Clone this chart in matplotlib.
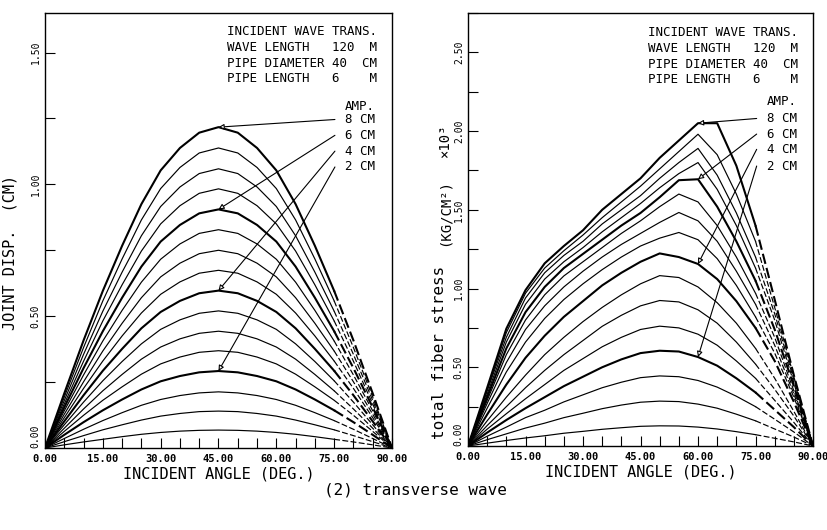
import matplotlib.pyplot as plt
from matplotlib.ticker import MultipleLocator, FormatStrFormatter

plt.rcParams["font.family"] = ["DejaVu Sans Mono"]

# == data ===
angle = list(range(0, 95, 5))
amplitude = [0.5, 1.0, 1.5, 2.0, 2.5, 3.0, 3.5, 4.0, 4.5, 5.0, 5.5, 6.0, 6.5, 7.0, 7.5, 8.0]
labelled_amp = [8.0, 6.0, 4.0, 2.0]

# joint displacement (cm) per amplitude, 0..90 deg every 5 deg
joint_disp = [
    [0, 0.012, 0.023, 0.033, 0.043, 0.052, 0.059, 0.064, 0.067, 0.068, 0.067, 0.064, 0.059, 0.052, 0.043, 0.033, 0.023, 0.012, 0],
    [0, 0.024, 0.047, 0.069, 0.088, 0.106, 0.121, 0.131, 0.138, 0.140, 0.138, 0.131, 0.121, 0.106, 0.088, 0.069, 0.047, 0.024, 0],
    [0, 0.036, 0.071, 0.104, 0.134, 0.162, 0.184, 0.199, 0.209, 0.213, 0.209, 0.199, 0.184, 0.162, 0.134, 0.104, 0.071, 0.036, 0],
    [0, 0.050, 0.098, 0.143, 0.184, 0.222, 0.253, 0.273, 0.287, 0.292, 0.287, 0.273, 0.253, 0.222, 0.184, 0.143, 0.098, 0.050, 0],
    [0, 0.063, 0.124, 0.181, 0.232, 0.280, 0.319, 0.345, 0.363, 0.369, 0.363, 0.345, 0.319, 0.280, 0.232, 0.181, 0.124, 0.063, 0],
    [0, 0.075, 0.148, 0.217, 0.279, 0.337, 0.383, 0.414, 0.435, 0.443, 0.435, 0.414, 0.383, 0.337, 0.279, 0.217, 0.148, 0.075, 0],
    [0, 0.088, 0.174, 0.255, 0.328, 0.395, 0.450, 0.486, 0.511, 0.520, 0.511, 0.486, 0.450, 0.395, 0.328, 0.255, 0.174, 0.088, 0],
    [0, 0.101, 0.200, 0.293, 0.376, 0.454, 0.516, 0.558, 0.587, 0.597, 0.587, 0.558, 0.516, 0.454, 0.376, 0.293, 0.200, 0.101, 0],
    [0, 0.115, 0.226, 0.330, 0.425, 0.512, 0.583, 0.630, 0.663, 0.674, 0.663, 0.630, 0.583, 0.512, 0.425, 0.330, 0.226, 0.115, 0],
    [0, 0.128, 0.251, 0.368, 0.473, 0.570, 0.649, 0.701, 0.737, 0.750, 0.737, 0.701, 0.649, 0.570, 0.473, 0.368, 0.251, 0.128, 0],
    [0, 0.141, 0.277, 0.406, 0.522, 0.629, 0.716, 0.774, 0.814, 0.828, 0.814, 0.774, 0.716, 0.629, 0.522, 0.406, 0.277, 0.141, 0],
    [0, 0.154, 0.303, 0.443, 0.570, 0.688, 0.783, 0.846, 0.890, 0.905, 0.890, 0.846, 0.783, 0.688, 0.570, 0.443, 0.303, 0.154, 0],
    [0, 0.167, 0.329, 0.482, 0.619, 0.747, 0.850, 0.919, 0.966, 0.983, 0.966, 0.919, 0.850, 0.747, 0.619, 0.482, 0.329, 0.167, 0],
    [0, 0.180, 0.355, 0.519, 0.667, 0.805, 0.916, 0.990, 1.041, 1.059, 1.041, 0.990, 0.916, 0.805, 0.667, 0.519, 0.355, 0.180, 0],
    [0, 0.193, 0.381, 0.558, 0.717, 0.865, 0.984, 1.064, 1.119, 1.138, 1.119, 1.064, 0.984, 0.865, 0.717, 0.558, 0.381, 0.193, 0],
    [0, 0.207, 0.408, 0.596, 0.767, 0.925, 1.053, 1.138, 1.196, 1.217, 1.196, 1.138, 1.053, 0.925, 0.767, 0.596, 0.408, 0.207, 0],
]

# total fiber stress (x10^3 kg/cm2) per amplitude
fiber_stress = [
    [0, 0.018, 0.035, 0.051, 0.065, 0.081, 0.093, 0.106, 0.116, 0.125, 0.128, 0.127, 0.120, 0.108, 0.091, 0.072, 0.049, 0.026, 0],
    [0, 0.040, 0.077, 0.114, 0.145, 0.180, 0.208, 0.237, 0.260, 0.278, 0.285, 0.282, 0.266, 0.240, 0.202, 0.160, 0.108, 0.057, 0],
    [0, 0.062, 0.120, 0.180, 0.227, 0.280, 0.325, 0.370, 0.405, 0.434, 0.445, 0.440, 0.416, 0.374, 0.316, 0.250, 0.170, 0.089, 0],
    [0, 0.085, 0.165, 0.240, 0.310, 0.380, 0.440, 0.500, 0.550, 0.590, 0.605, 0.600, 0.565, 0.510, 0.430, 0.340, 0.230, 0.120, 0],
    [0, 0.107, 0.205, 0.300, 0.390, 0.480, 0.555, 0.630, 0.690, 0.740, 0.761, 0.750, 0.710, 0.640, 0.540, 0.430, 0.290, 0.150, 0],
    [0, 0.130, 0.250, 0.370, 0.480, 0.580, 0.670, 0.760, 0.830, 0.890, 0.924, 0.915, 0.865, 0.780, 0.660, 0.520, 0.360, 0.190, 0],
    [0, 0.160, 0.310, 0.450, 0.580, 0.690, 0.790, 0.880, 0.960, 1.030, 1.082, 1.070, 1.010, 0.910, 0.780, 0.620, 0.430, 0.220, 0],
    [0, 0.200, 0.390, 0.560, 0.700, 0.820, 0.920, 1.020, 1.100, 1.170, 1.223, 1.200, 1.156, 1.060, 0.920, 0.750, 0.540, 0.280, 0],
    [0, 0.240, 0.470, 0.660, 0.810, 0.930, 1.030, 1.120, 1.200, 1.270, 1.320, 1.356, 1.310, 1.190, 1.020, 0.820, 0.590, 0.310, 0],
    [0, 0.270, 0.530, 0.740, 0.890, 1.010, 1.110, 1.200, 1.280, 1.350, 1.420, 1.483, 1.430, 1.300, 1.110, 0.900, 0.640, 0.330, 0],
    [0, 0.290, 0.580, 0.800, 0.960, 1.080, 1.170, 1.260, 1.350, 1.430, 1.520, 1.600, 1.550, 1.400, 1.200, 0.970, 0.690, 0.350, 0],
    [0, 0.310, 0.620, 0.850, 1.010, 1.130, 1.220, 1.310, 1.400, 1.480, 1.580, 1.688, 1.694, 1.520, 1.300, 1.050, 0.740, 0.380, 0],
    [0, 0.330, 0.660, 0.900, 1.060, 1.170, 1.260, 1.360, 1.450, 1.540, 1.640, 1.730, 1.800, 1.630, 1.400, 1.130, 0.800, 0.400, 0],
    [0, 0.350, 0.690, 0.940, 1.100, 1.210, 1.300, 1.410, 1.500, 1.590, 1.700, 1.800, 1.890, 1.720, 1.480, 1.200, 0.840, 0.420, 0],
    [0, 0.360, 0.720, 0.970, 1.130, 1.240, 1.340, 1.450, 1.550, 1.650, 1.760, 1.870, 1.980, 1.850, 1.600, 1.300, 0.880, 0.440, 0],
    [0, 0.370, 0.745, 0.990, 1.160, 1.270, 1.370, 1.500, 1.600, 1.700, 1.830, 1.940, 2.050, 2.050, 1.780, 1.400, 0.930, 0.450, 0],
]

header = ["INCIDENT WAVE TRANS.",
          "WAVE LENGTH   120  M",
          "PIPE DIAMETER 40  CM",
          "PIPE LENGTH   6    M"]
amp_labels = ["8 CM", "6 CM", "4 CM", "2 CM"]

# arrow tips (angle, value) on the labelled curves
disp_tips = [(45, 1.217), (45, 0.905), (45, 0.597), (45, 0.292)]
stress_tips = [(60, 2.05), (60, 1.694), (60, 1.156), (60, 0.565)]

# heights of the "AMP." heading and of the four amplitude labels
disp_label_y = [1.295, 1.246, 1.186, 1.126, 1.066]
stress_label_y = [2.19, 2.080, 1.981, 1.884, 1.778]

# labelled y ticks of each panel
disp_ticks = [0.0, 0.5, 1.0, 1.5]
stress_ticks = [0.0, 0.5, 1.0, 1.5, 2.0, 2.5]

DASH_FROM = 15  # index of 75 deg; the tail to 90 deg is drawn dashed


def draw_panel(ax, rows, ymax, yticks, tips, head_xy, amp_x, label_y):
    for a, vals in zip(amplitude, rows):
        lw = 1.5 if a in labelled_amp else 0.85
        ax.plot(angle[:DASH_FROM + 1], vals[:DASH_FROM + 1], color="black", lw=lw)
        ax.plot(angle[DASH_FROM:], vals[DASH_FROM:], color="black", lw=lw,
                linestyle=(0, (5, 2)))

    ax.set_xlim(0, 90)
    ax.set_ylim(0, ymax)
    ax.set_xticks(angle[::3])
    ax.xaxis.set_minor_locator(MultipleLocator(5))
    ax.set_yticks(yticks)
    ax.yaxis.set_minor_locator(MultipleLocator(0.25))
    ax.xaxis.set_major_formatter(FormatStrFormatter("%.2f"))
    ax.yaxis.set_major_formatter(FormatStrFormatter("%.2f"))
    ax.tick_params(which="both", direction="in", length=7, width=0.8)
    ax.tick_params(axis="x", labelsize=7.5, pad=4)
    ax.tick_params(axis="y", labelsize=7, pad=3)
    xlabels = ax.get_xticklabels()
    for lab in xlabels:
        lab.set_fontweight("bold")
    ylabels = ax.get_yticklabels()
    for lab in ylabels:
        lab.set_rotation(90)
        lab.set_va("center")
    # the 0.00 labels are nudged away from the corner
    ylabels[0].set_va("bottom")
    for sp in ax.spines.values():
        sp.set_linewidth(1.0)
    ax.set_xlabel("INCIDENT ANGLE (DEG.)", fontsize=11, labelpad=2)

    # parameter block
    ax.text(head_xy[0], head_xy[1], "\n".join(header), fontsize=9,
            va="top", ha="left", linespacing=1.27)

    # amplitude labels with arrows to the curves
    ax.text(amp_x, label_y[0], "AMP.", fontsize=9, va="center", ha="left")
    for txt, tip, ly in zip(amp_labels, tips, label_y[1:]):
        ax.text(amp_x, ly, txt, fontsize=9, va="center", ha="left")
        ax.annotate("", xy=tip, xytext=(amp_x - 2.6, ly),
                    arrowprops=dict(arrowstyle="-|>", color="black", fc="white",
                                    lw=0.8, mutation_scale=8,
                                    shrinkA=0, shrinkB=0))


fig = plt.figure(figsize=(8.27, 5.30), dpi=100)
ax1 = fig.add_axes([0.0544, 0.1547, 0.4196, 0.8208])
ax2 = fig.add_axes([0.5659, 0.1585, 0.4172, 0.8170])

draw_panel(ax1, joint_disp, 1.65, disp_ticks, disp_tips, (47.1, 1.603),
           77.8, disp_label_y)
draw_panel(ax2, fiber_stress, 2.75, stress_ticks, stress_tips, (47.0, 2.665),
           77.9, stress_label_y)

ax1.set_ylabel("JOINT DISP.  (CM)", fontsize=11)
ax1.yaxis.set_label_coords(-0.078, 0.45)

# stress axis title is made of three pieces
fig.text(0.532, 0.335, "total fiber stress", rotation=90, fontsize=11.5,
         ha="center", va="center")
fig.text(0.538, 0.600, "(KG/CM²)", rotation=90, fontsize=10,
         ha="center", va="center")
fig.text(0.538, 0.735, "×10³", rotation=90, fontsize=10,
         ha="center", va="center")

fig.text(0.502, 0.075, "(2) transverse wave", fontsize=11.5, ha="center", va="center")

fig.savefig("out.png", dpi=100)
